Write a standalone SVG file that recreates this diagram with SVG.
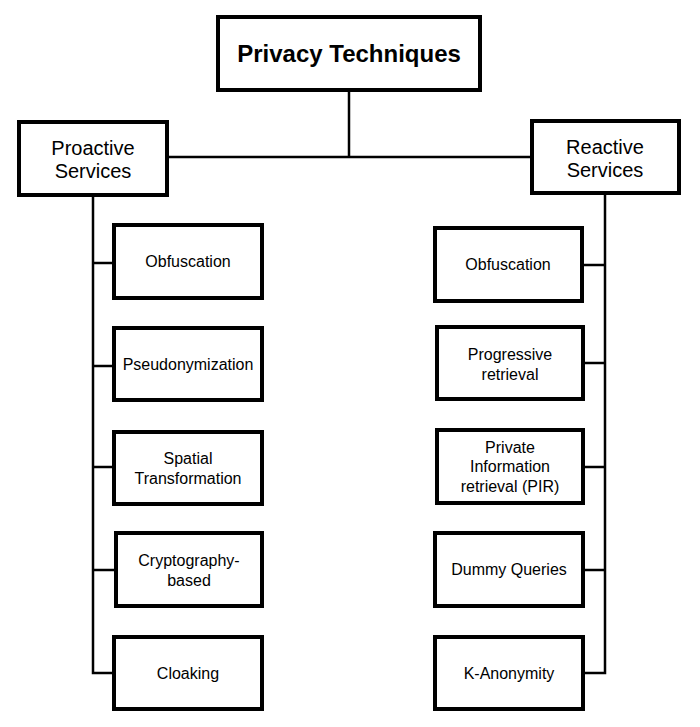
<svg xmlns="http://www.w3.org/2000/svg" width="700" height="727" viewBox="0 0 700 727">
<style>
.box{fill:#fff;stroke:#000;stroke-width:4}
.sh{fill:#d8d8d8}
.t{font-family:"Liberation Sans",Arial,sans-serif;font-size:16px;fill:#000;text-anchor:middle}
.m{font-size:20px}
.b{font-size:24px;font-weight:bold}
.c{fill:none;stroke:#000;stroke-width:2.5}
</style>
<rect width="700" height="727" fill="#fff"/>
<g id="connectors">
<polyline class="c" points="349,90 349,157"/>
<line class="c" x1="167" y1="157" x2="532" y2="157"/>
<polyline class="c" points="93,195 93,673 114,673"/>
<line class="c" x1="93" y1="263" x2="114" y2="263"/>
<line class="c" x1="93" y1="366" x2="114" y2="366"/>
<line class="c" x1="93" y1="467" x2="114" y2="467"/>
<line class="c" x1="93" y1="570" x2="116" y2="570"/>
<polyline class="c" points="605,193 605,673 582,673"/>
<line class="c" x1="605" y1="265" x2="582" y2="265"/>
<line class="c" x1="605" y1="363" x2="583" y2="363"/>
<line class="c" x1="605" y1="467" x2="583" y2="467"/>
<line class="c" x1="605" y1="570" x2="583" y2="570"/>
</g>
<g id="root"><rect class="sh" x="220" y="19" width="262" height="73"/><rect class="box" x="218" y="17" width="262" height="73"/><text class="t b" x="349" y="62">Privacy Techniques</text></g>
<g id="proactive"><rect class="sh" x="21" y="124" width="148" height="73"/><rect class="box" x="19" y="122" width="148" height="73"/><text class="t m" x="93" y="155">Proactive</text><text class="t m" x="93" y="178">Services</text></g>
<g id="reactive"><rect class="sh" x="534" y="123" width="147" height="72"/><rect class="box" x="532" y="121" width="147" height="72"/><text class="t m" x="605" y="154">Reactive</text><text class="t m" x="605" y="177">Services</text></g>
<g id="p-obf"><rect class="sh" x="116" y="227" width="148" height="73"/><rect class="box" x="114" y="225" width="148" height="73"/><text class="t" x="188" y="267">Obfuscation</text></g>
<g id="p-pseudo"><rect class="sh" x="116" y="330" width="148" height="72"/><rect class="box" x="114" y="328" width="148" height="72"/><text class="t" x="188" y="370">Pseudonymization</text></g>
<g id="p-spatial"><rect class="sh" x="116" y="434" width="148" height="72"/><rect class="box" x="114" y="432" width="148" height="72"/><text class="t" x="188" y="464">Spatial</text><text class="t" x="188" y="484">Transformation</text></g>
<g id="p-crypto"><rect class="sh" x="118" y="535" width="146" height="73"/><rect class="box" x="116" y="533" width="146" height="73"/><text class="t" x="189" y="566">Cryptography-</text><text class="t" x="189" y="586">based</text></g>
<g id="p-cloak"><rect class="sh" x="116" y="639" width="148" height="72"/><rect class="box" x="114" y="637" width="148" height="72"/><text class="t" x="188" y="679">Cloaking</text></g>
<g id="r-obf"><rect class="sh" x="437" y="230" width="147" height="73"/><rect class="box" x="435" y="228" width="147" height="73"/><text class="t" x="508" y="270">Obfuscation</text></g>
<g id="r-prog"><rect class="sh" x="439" y="329" width="146" height="72"/><rect class="box" x="437" y="327" width="146" height="72"/><text class="t" x="510" y="360">Progressive</text><text class="t" x="510" y="380">retrieval</text></g>
<g id="r-pir"><rect class="sh" x="439" y="432" width="146" height="73"/><rect class="box" x="437" y="430" width="146" height="73"/><text class="t" x="510" y="453">Private</text><text class="t" x="510" y="472">Information</text><text class="t" x="510" y="492">retrieval (PIR)</text></g>
<g id="r-dummy"><rect class="sh" x="437" y="535" width="148" height="73"/><rect class="box" x="435" y="533" width="148" height="73"/><text class="t" x="509" y="575">Dummy Queries</text></g>
<g id="r-kanon"><rect class="sh" x="437" y="639" width="148" height="72"/><rect class="box" x="435" y="637" width="148" height="72"/><text class="t" x="509" y="679">K-Anonymity</text></g>
</svg>
